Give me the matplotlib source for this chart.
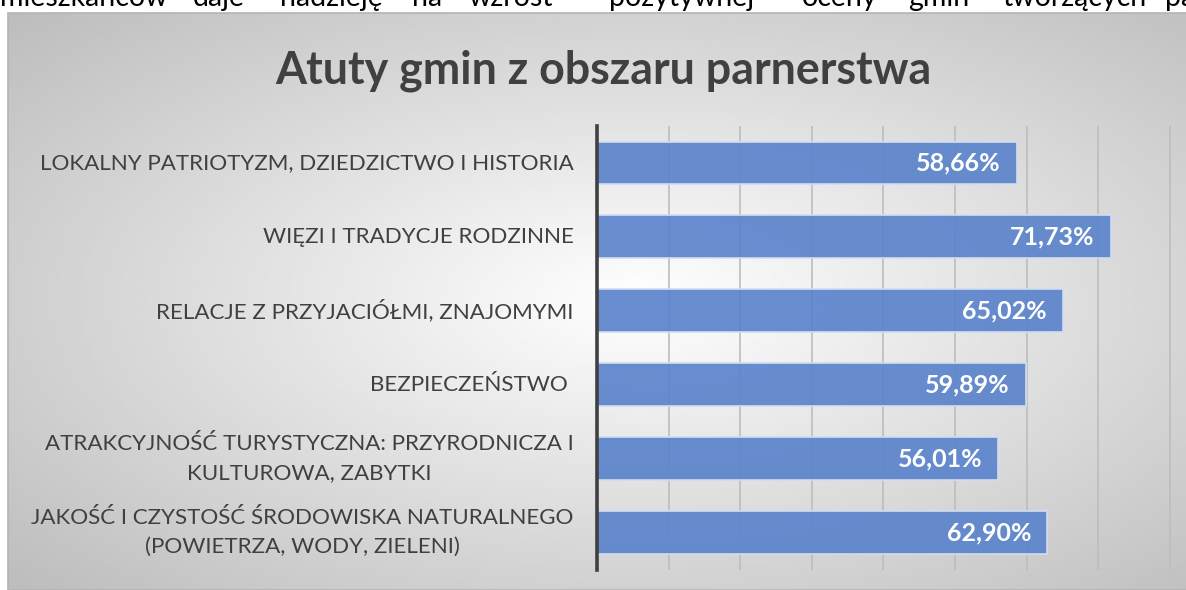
import numpy as np
import matplotlib.pyplot as plt
from matplotlib.patches import Rectangle

plt.rcParams['font.family'] = ['Lato', 'DejaVu Sans']

# Data
categories = [
    'LOKALNY PATRIOTYZM, DZIEDZICTWO I HISTORIA',
    'WIĘZI I TRADYCJE RODZINNE',
    'RELACJE Z PRZYJACIÓŁMI, ZNAJOMYMI',
    'BEZPIECZEŃSTWO ',
    'ATRAKCYJNOŚĆ TURYSTYCZNA: PRZYRODNICZA I\nKULTUROWA, ZABYTKI',
    'JAKOŚĆ I CZYSTOŚĆ ŚRODOWISKA NATURALNEGO\n(POWIETRZA, WODY, ZIELENI)',
]
values = [58.66, 71.73, 65.02, 59.89, 56.01, 62.90]
title = 'Atuty gmin z obszaru parnerstwa'

# cut-off line of document text above the chart
page_words = ['mieszkańców', 'daje', 'nadzieję', 'na', 'wzrost', 'pozytywnej',
              'oceny', 'gmin', 'tworzących', 'partnerstwa']
page_word_x = [0, 193, 280, 412, 469, 609, 802, 908, 1002, 1165]

W, H = 1186, 590
fig = plt.figure(figsize=(W / 100, H / 100), dpi=100)
fig.patch.set_facecolor('white')

# chart area background: radial gradient, white in the middle, grey at the corners
bg_left, bg_top = 8, 13
bg = fig.add_axes([bg_left / W, 0, 1 - bg_left / W, (H - bg_top) / H], zorder=-2)
gx = np.linspace(bg_left, W, 400)
gy = np.linspace(bg_top, H, 200)
X, Y = np.meshgrid(gx, gy)
r = np.sqrt(((X - 640) / 600) ** 2 + ((Y - 300) / 290) ** 2)
shade = 1 - 0.18 * r
bg.imshow(shade, cmap='gray', vmin=0, vmax=1, aspect='auto', interpolation='bilinear')
bg.set_axis_off()
fig.patches.append(Rectangle((bg_left / W, 0), 1, (H - bg_top) / H, transform=fig.transFigure,
                             fill=False, edgecolor='#b4b4b4', linewidth=1.2, zorder=-1))

for w, x in zip(page_words, page_word_x):
    fig.text(x / W, 1 - 6 / H, w, fontsize=20.5, color='black', va='baseline', ha='left')

# bar plot area (x axis 0-100 %, extends past right edge like the original crop)
ax_left, ax_right, ax_top, ax_bottom = 597, 1313, 126, 569.5
ax = fig.add_axes([ax_left / W, (H - ax_bottom) / H, (ax_right - ax_left) / W, (ax_bottom - ax_top) / H])
ax.patch.set_visible(False)

pos = np.arange(len(categories))
ax.barh(pos, values, height=0.58, color='#5B84CC', edgecolor='#D2DDF1', linewidth=1.3,
        alpha=0.92, zorder=3)

for i, v in enumerate(values):
    ax.annotate(f'{v:.2f}%'.replace('.', ','), (v, i), xytext=(-11.5, 0), textcoords='offset points',
                ha='right', va='center', color='white', fontsize=18, fontweight='bold', zorder=4)

# category labels, right aligned next to the axis, multi-line centred
for i, cat in enumerate(categories):
    ax.annotate(cat, (0, i), xytext=(-17, 0), textcoords='offset points', ha='right',
                va='center', multialignment='center', linespacing=1.55,
                fontsize=16.1, color='#404040', annotation_clip=False)

ax.set_xlim(0, 100)
ax.set_ylim(len(categories) - 0.5, -0.5)
ax.set_xticks(np.arange(0, 101, 10))
ax.xaxis.grid(True, color='#bdbdbd', linewidth=1.2)
ax.set_axisbelow(True)
ax.tick_params(axis='x', length=0, labelbottom=False)
ax.set_yticks([])

for s in ['top', 'right', 'bottom']:
    ax.spines[s].set_visible(False)
ax.spines['left'].set_color('#404040')
ax.spines['left'].set_linewidth(2.6)
ax.spines['left'].set_zorder(5)

fig.text(603 / W, 1 - 84 / H, title, fontsize=32.2, fontweight='bold', color='#404040',
         ha='center', va='baseline')

fig.savefig('out.png', dpi=100)
